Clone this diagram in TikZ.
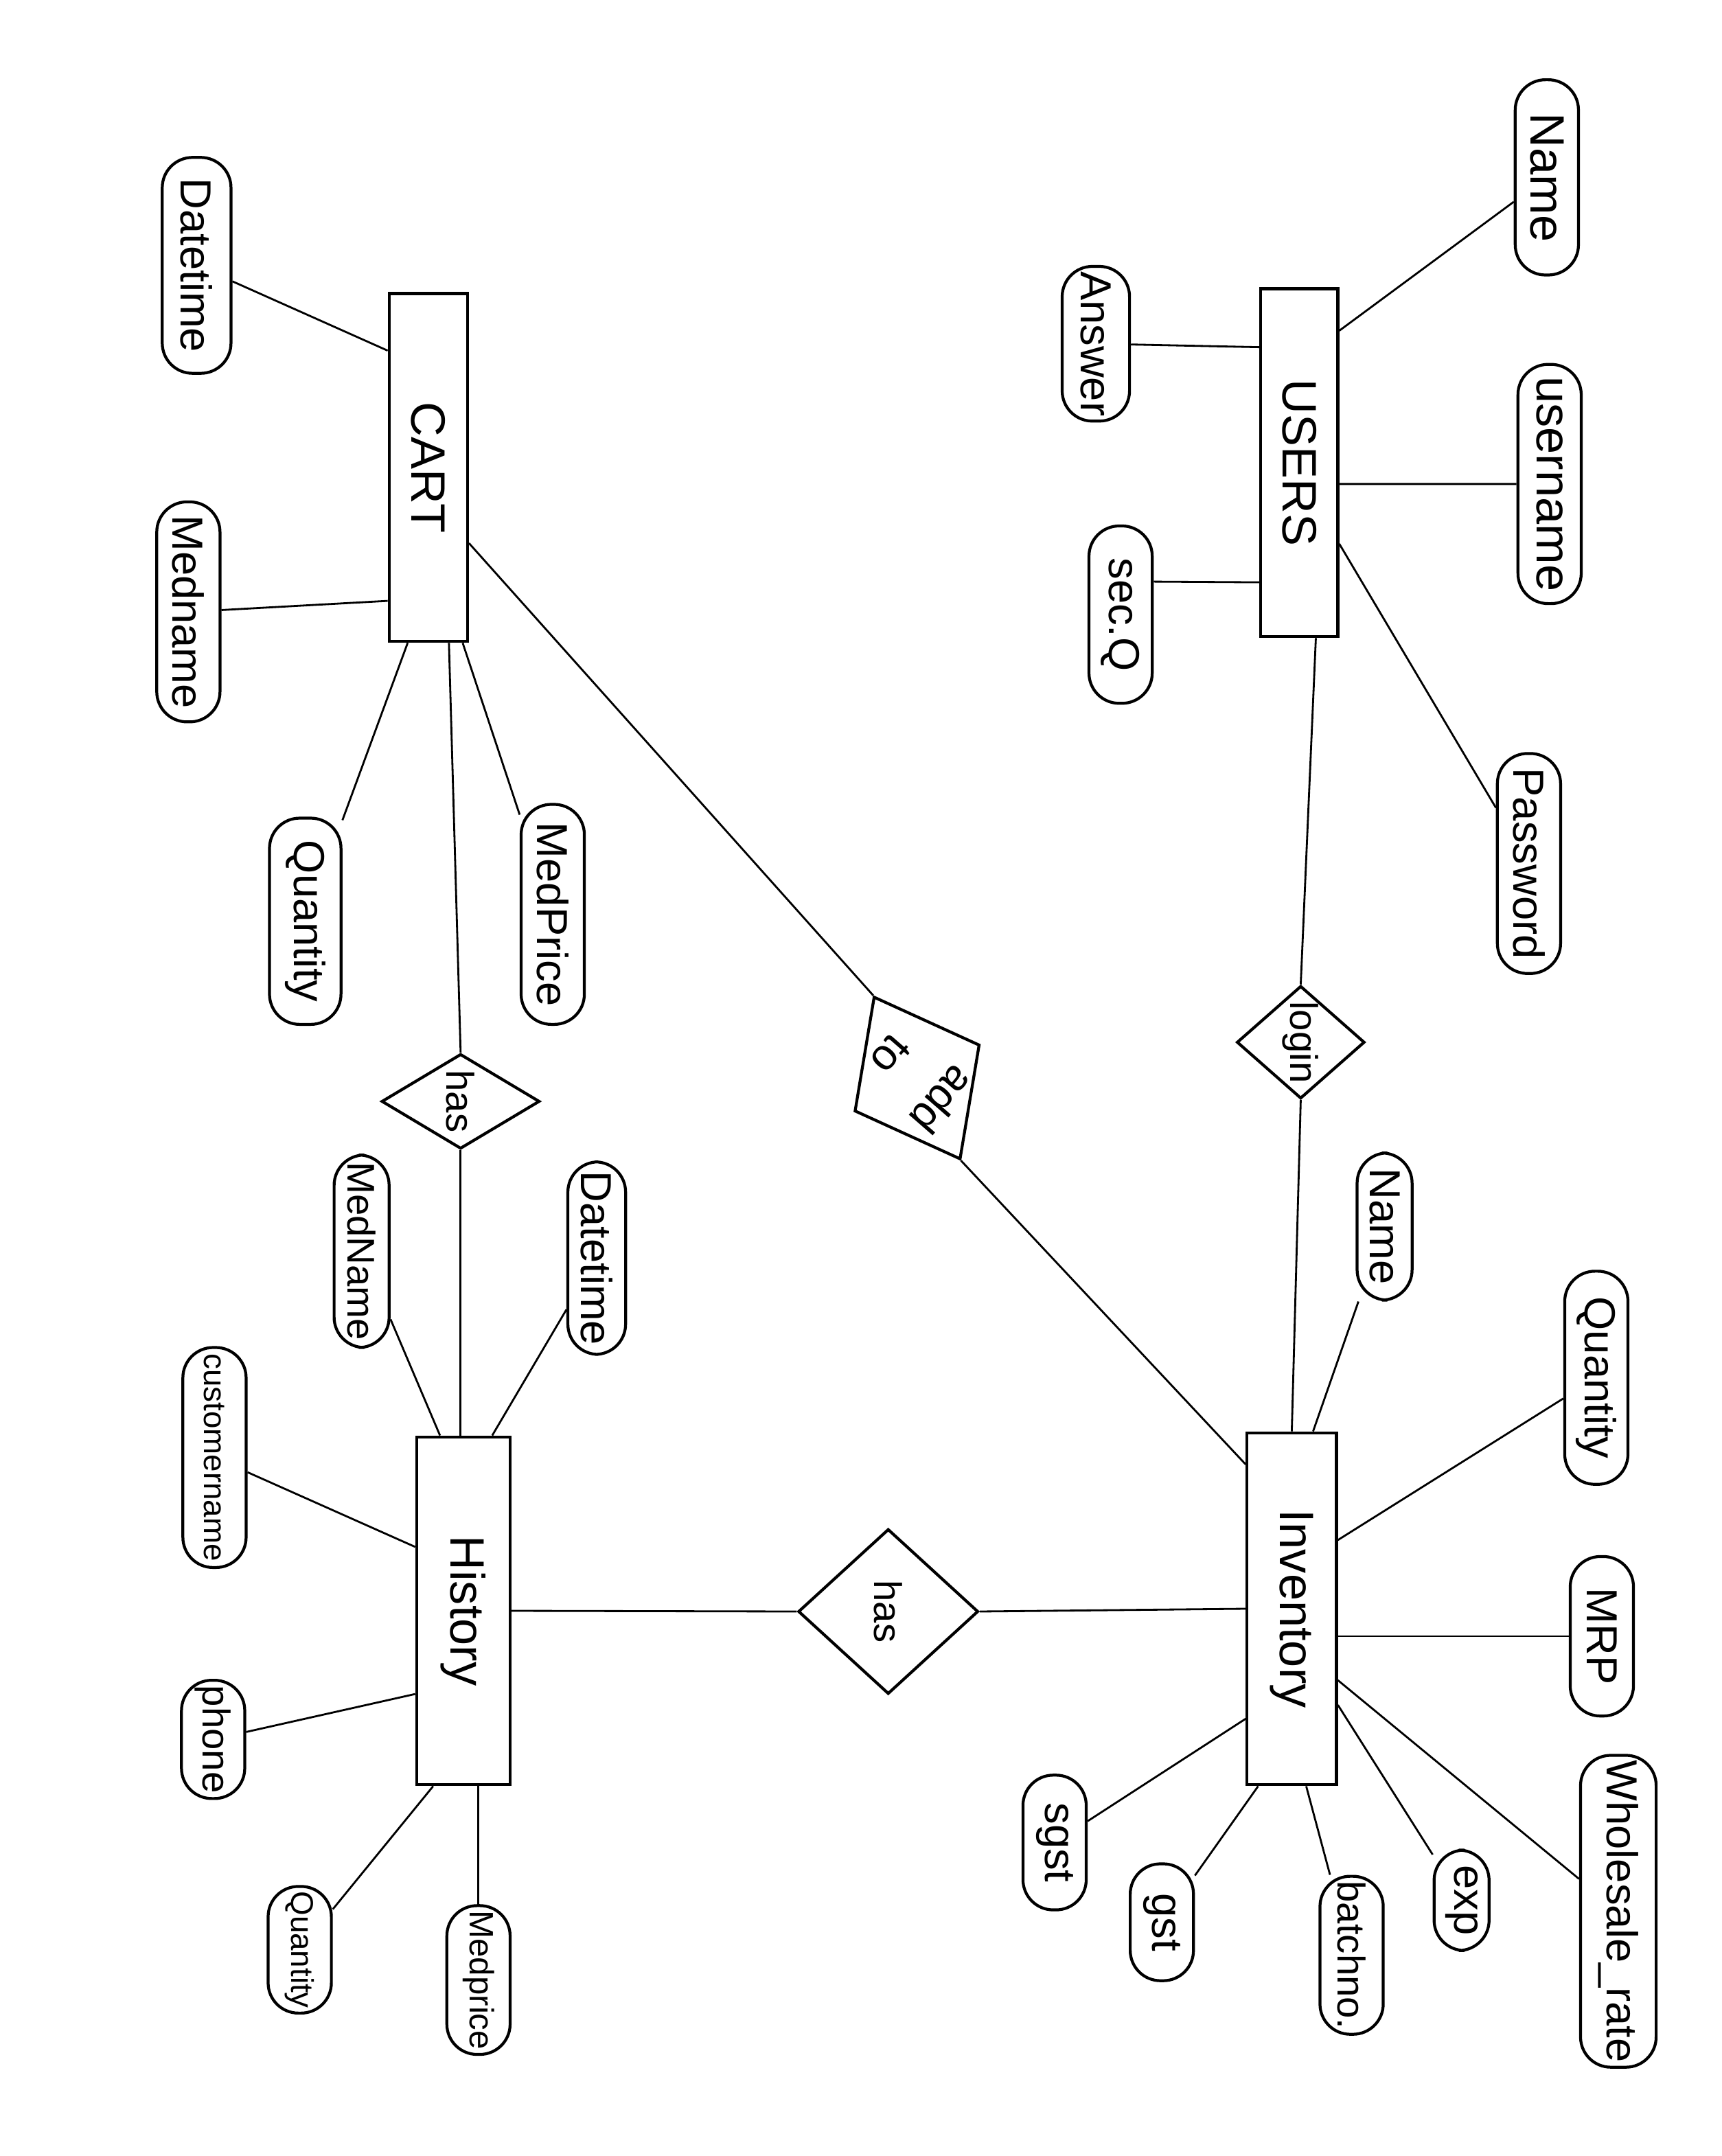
\documentclass[tikz,border=0pt]{standalone}
\usepackage{fontspec}
\setmainfont{Liberation Sans}
\usepackage{tikz}
\usetikzlibrary{shapes.geometric}

\begin{document}
\begin{tikzpicture}[
  ent/.style={draw, semithick, rectangle, rotate=-90, minimum width=2.53cm, minimum height=0.56cm, inner sep=1pt},
  attr/.style={draw, semithick, rounded corners=2.2mm, rotate=-90, minimum height=0.46cm, inner xsep=1pt, inner ysep=2pt, font=\small},
  rel/.style={draw, semithick, diamond, rotate=-90, inner sep=-2pt, font=\footnotesize},
  link/.style={draw, thin}
]
\useasboundingbox (0,0) rectangle (12.52,-15.68);
% nodes are turned by -90: north = right side, south = left side, west = top, east = bottom

% Entities
\node[ent] (users) at (9.45,-3.365) {USERS};
\node[ent, minimum height=0.57cm] (cart) at (3.115,-3.40) {CART};
\node[ent, minimum height=0.68cm] (history) at (3.37,-11.715) {History};
\node[ent, minimum height=0.65cm, minimum width=2.56cm] (inventory) at (9.395,-11.70) {Inventory};

% Relationships
\node[rel, minimum width=0.82cm, minimum height=0.93cm] (login) at (9.46,-7.58) {login};
\node[rel, minimum width=0.69cm, minimum height=1.15cm] (has1) at (3.35,-8.01) {has};
\node[rel, minimum width=1.20cm, minimum height=1.31cm] (has2) at (6.46,-11.72) {has};
\node[draw, semithick, diamond, rotate=28, inner sep=0pt, minimum width=1.03cm, minimum height=1.34cm] (addto) at (6.67,-7.84) {};
\node[rotate=-131, align=center, font=\small, inner sep=0pt] (addtotext) at (addto) {add\\[3pt]to};

% USERS attributes
\node[attr, minimum width=1.42cm, font=\normalsize] (uname) at (11.25,-1.29) {Name};
\node[attr, minimum width=1.74cm, font=\normalsize] (username) at (11.27,-3.52) {username};
\node[attr, minimum width=1.60cm] (password) at (11.12,-6.28) {Password};
\node[attr, minimum width=1.12cm, minimum height=0.49cm] (answer) at (7.97,-2.50) {Answer};
\node[attr, minimum width=1.29cm] (secq) at (8.15,-4.47) {sec.Q};

% CART attributes
\node[attr, minimum width=1.57cm, minimum height=0.50cm] (cdate) at (1.43,-1.93) {Datetime};
\node[attr, minimum width=1.60cm] (cmed) at (1.37,-4.45) {Medname};
\node[attr, minimum width=1.50cm, minimum height=0.52cm] (cqty) at (2.22,-6.70) {Quantity};
\node[attr, minimum width=1.60cm] (cprice) at (4.02,-6.65) {MedPrice};

% History attributes
\node[attr, minimum width=1.40cm, minimum height=0.40cm, font=\footnotesize] (hmed) at (2.63,-9.10) {MedName};
\node[attr, minimum width=1.40cm, minimum height=0.42cm] (hdate) at (4.34,-9.15) {Datetime};
\node[attr, minimum width=1.60cm, font=\fontsize{6.5pt}{8pt}\selectfont] (hcust) at (1.56,-10.60) {customername};
\node[attr, minimum width=0.86cm, font=\footnotesize] (hphone) at (1.55,-12.65) {phone};
\node[attr, minimum width=0.87cm, font=\fontsize{6.5pt}{8pt}\selectfont] (hqty) at (2.18,-14.18) {Quantity};
\node[attr, minimum width=1.02cm, font=\scriptsize] (hprice) at (3.48,-14.40) {Medprice};

% Inventory attributes
\node[attr, minimum width=1.07cm, minimum height=0.40cm] (iname) at (10.07,-8.92) {Name};
\node[attr, minimum width=1.55cm] (iqty) at (11.61,-10.02) {Quantity};
\node[attr, minimum width=1.16cm] (mrp) at (11.65,-11.90) {MRP};
\node[attr, minimum width=2.20cm, minimum height=0.55cm] (whole) at (11.77,-13.90) {Wholesale\_rate};
\node[attr, minimum width=0.73cm, minimum height=0.40cm] (exp) at (10.63,-13.82) {exp};
\node[attr, minimum width=1.13cm, font=\footnotesize] (batch) at (9.83,-14.22) {batchno.};
\node[attr, minimum width=0.85cm] (gst) at (8.45,-13.98) {gst};
\node[attr, minimum width=0.98cm] (sgst) at (7.67,-13.40) {sgst};

% Connections
\draw[link] (uname) -- ([yshift=9.6mm]users.north);
\draw[link] (username) -- ([yshift=-1.55mm]users.north);
\draw[link] (password) -- ([yshift=-5.9mm]users.north);
\draw[link] (answer) -- ([yshift=8.4mm]users.south);
\draw[link] ([yshift=2.4mm]secq.north) -- ([yshift=-8.7mm]users.south);
\draw[link] ([xshift=1.2mm]users.east) -- (login.west);
\draw[link] (login.east) -- (inventory.west);

\draw[link] (cdate) -- ([yshift=8.5mm]cart.south);
\draw[link] (cmed) -- ([yshift=-9.7mm]cart.south);
\draw[link] (cqty) -- ([xshift=-1.5mm]cart.east);
\draw[link] (cprice) -- ([xshift=2.5mm]cart.east);
\draw[link] ([xshift=1.5mm]cart.east) -- (has1.west);
\draw[link] ([yshift=-5.5mm]cart.north) -- (addto.north);
\draw[link] (addto.south) -- ([yshift=10.5mm]inventory.south);

\draw[link] (has1.east) -- (has1.east |- history.west);
\draw[link] (hmed) -- ([xshift=-1.7mm]history.west);
\draw[link] (hdate) -- ([xshift=2.1mm]history.west);
\draw[link] (hcust) -- ([yshift=4.65mm]history.south);
\draw[link] (hphone) -- ([yshift=-6.05mm]history.south);
\draw[link] (hqty) -- ([xshift=-2.2mm]history.east);
\draw[link] (hprice.west) -- (hprice.west |- history.east);
\draw[link] (history.north) -- (has2.south);
\draw[link] (has2.north) -- (inventory.south);

\draw[link] (iname) -- ([xshift=1.55mm]inventory.west);
\draw[link] (iqty) -- ([yshift=5mm]inventory.north);
\draw[link] (mrp.south) -- (mrp.south -| inventory.north);
\draw[link] (whole) -- ([yshift=-5.2mm]inventory.north);
\draw[link] (exp) -- ([yshift=-7mm]inventory.north);
\draw[link] (batch) -- ([xshift=1.05mm]inventory.east);
\draw[link] (gst) -- ([xshift=-2.45mm]inventory.east);
\draw[link] (sgst) -- ([yshift=-8mm]inventory.south);
\end{tikzpicture}
\end{document}
